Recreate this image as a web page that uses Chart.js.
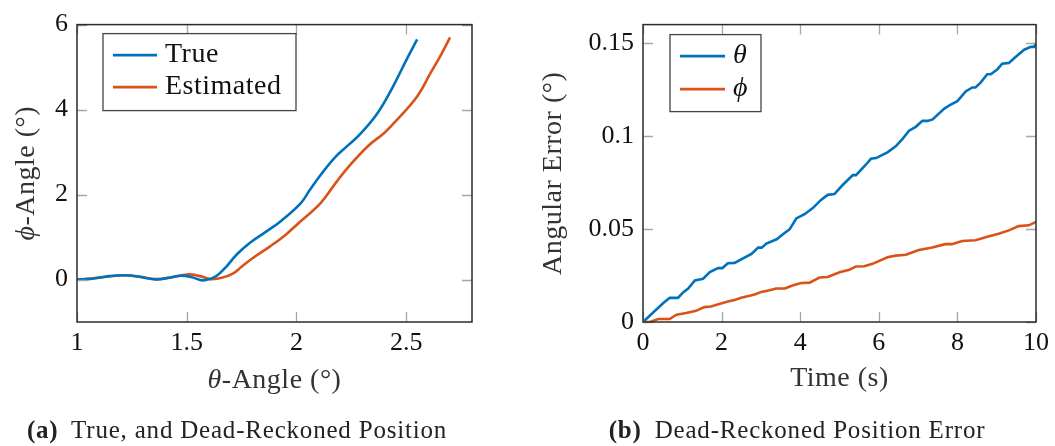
<!DOCTYPE html>
<html lang="en">
<head>
<meta charset="UTF-8">
<title>True, and Dead-Reckoned Position</title>
<script src="https://cdn.jsdelivr.net/npm/chart.js@4"></script>
<style>
  body { margin: 0; background: #fff; width: 1055px; height: 446px; position: relative; overflow: hidden; }
  canvas { position: absolute; top: 0; }
  #chart-a { left: 0; }
  #chart-b { left: 527px; }
  .caption { position: absolute; top: 416px; transform: translateX(-50%); white-space: nowrap;
             font-family: "Liberation Serif", serif; font-size: 25px; letter-spacing: 0.8px; color: #222; }
  .caption b { margin-right: 6px; }
</style>
</head>
<body>
<canvas id="chart-a" width="527" height="446"></canvas>
<canvas id="chart-b" width="528" height="446"></canvas>
<div class="caption" style="left:237px"><b>(a)</b> True, and Dead-Reckoned Position</div>
<div class="caption" style="left:797px"><b>(b)</b> Dead-Reckoned Position Error</div>

<script>
// (a) phi vs theta
const trueX = [1.00, 1.05, 1.10, 1.15, 1.21, 1.28, 1.36, 1.42, 1.47, 1.52, 1.57, 1.61, 1.64, 1.68, 1.73, 1.79, 1.86, 1.93, 2.02, 2.06, 2.11, 2.18, 2.24, 2.29, 2.37, 2.44, 2.50, 2.55];
const trueY = [0.00, 0.01, 0.04, 0.08, 0.10, 0.07, 0.00, 0.04, 0.09, 0.06, -0.02, 0.02, 0.10, 0.30, 0.60, 0.87, 1.12, 1.38, 1.80, 2.10, 2.46, 2.90, 3.18, 3.42, 3.92, 4.54, 5.16, 5.65];
const estX = [1.00, 1.06, 1.12, 1.22, 1.29, 1.36, 1.44, 1.51, 1.56, 1.61, 1.66, 1.71, 1.75, 1.80, 1.88, 1.95, 2.01, 2.11, 2.18, 2.24, 2.33, 2.40, 2.46, 2.55, 2.61, 2.66, 2.70];
const estY = [0.00, 0.02, 0.06, 0.10, 0.06, 0.01, 0.06, 0.12, 0.08, 0.01, 0.04, 0.14, 0.30, 0.50, 0.78, 1.05, 1.33, 1.80, 2.28, 2.67, 3.16, 3.45, 3.77, 4.31, 4.85, 5.30, 5.70];
const xTicksA = [1, 1.5, 2, 2.5];
const yTicksA = [0, 2, 4, 6];

// (b) angular error over time
const thetaT = [0, 0.51, 0.68, 0.89, 1.02, 1.15, 1.32, 1.53, 1.70, 1.91, 2.02, 2.16, 2.33, 2.76, 2.93, 3.02, 3.14, 3.40, 3.61, 3.73, 3.90, 4.11, 4.32, 4.53, 4.70, 4.87, 5.08, 5.34, 5.42, 5.67, 5.80, 5.93, 6.22, 6.43, 6.60, 6.77, 6.94, 7.11, 7.24, 7.37, 7.66, 7.83, 8.00, 8.21, 8.38, 8.46, 8.59, 8.76, 8.85, 9.02, 9.14, 9.31, 9.48, 9.70, 9.87, 9.95, 10.0];
const thetaErr = [0, 0.0101, 0.013, 0.013, 0.0159, 0.018, 0.0224, 0.0233, 0.0268, 0.029, 0.029, 0.0316, 0.0318, 0.0366, 0.040, 0.040, 0.0422, 0.0445, 0.048, 0.0498, 0.0557, 0.058, 0.0613, 0.0657, 0.0684, 0.0688, 0.0737, 0.079, 0.079, 0.0846, 0.0878, 0.0882, 0.0913, 0.0945, 0.0984, 0.1029, 0.105, 0.1082, 0.1082, 0.109, 0.1147, 0.117, 0.1188, 0.124, 0.1262, 0.1262, 0.1288, 0.1333, 0.1333, 0.136, 0.139, 0.1394, 0.1426, 0.1465, 0.148, 0.148, 0.150];
const phiT = [0, 0.18, 0.39, 0.68, 0.85, 1.10, 1.35, 1.56, 1.73, 1.94, 2.16, 2.33, 2.50, 2.71, 2.84, 3.01, 3.22, 3.39, 3.61, 3.82, 4.03, 4.24, 4.49, 4.70, 5.00, 5.25, 5.42, 5.63, 5.84, 6.22, 6.43, 6.69, 7.02, 7.36, 7.69, 7.86, 8.12, 8.46, 8.76, 9.05, 9.31, 9.56, 9.82, 10.0];
const phiErr = [0, 0.0, 0.0016, 0.0016, 0.0039, 0.0048, 0.006, 0.008, 0.0083, 0.0097, 0.011, 0.0118, 0.013, 0.0141, 0.0148, 0.0162, 0.0171, 0.018, 0.018, 0.0198, 0.021, 0.0212, 0.0239, 0.0242, 0.0268, 0.0281, 0.0299, 0.030, 0.0313, 0.0348, 0.0357, 0.0362, 0.0387, 0.0401, 0.0419, 0.0419, 0.0436, 0.0440, 0.0458, 0.0475, 0.0493, 0.0516, 0.052, 0.0539];
const xTicksB = [0, 2, 4, 6, 8, 10];
const yTicksB = [0, 0.05, 0.1, 0.15];

const FONT = '"Liberation Serif", serif';
const SIZE = 26;      // tick labels
const TSIZE = 28;     // axis titles and legend
const BLUE = '#0072BD';
const ORANGE = '#D95319';

const pts = (xs, ys) => xs.map((x, i) => ({ x: x, y: ys[i] }));

// text made of pieces, some italic (greek letters)
function drawParts(ctx, parts, x, y) {
  let total = 0;
  ctx.letterSpacing = '0.5px';
  const widths = parts.map(([t, it]) => {
    ctx.font = (it ? 'italic ' : '') + TSIZE + 'px ' + FONT;
    const w = ctx.measureText(t).width;
    total += w;
    return w;
  });
  let cx = x - total / 2;
  parts.forEach(([t, it], i) => {
    ctx.font = (it ? 'italic ' : '') + TSIZE + 'px ' + FONT;
    ctx.fillText(t, cx, y);
    cx += widths[i];
  });
  ctx.letterSpacing = '0px';
}

// pgfplots-like frame, inward ticks, axis titles and boxed legend
const framePlugin = {
  id: 'frame',
  afterDatasetsDraw(chart, args, o) {
    const ctx = chart.ctx;
    const a = chart.chartArea;
    const xs = chart.scales.x, ys = chart.scales.y;
    ctx.save();
    // ticks
    ctx.strokeStyle = '#a6a6a6';
    ctx.lineWidth = 1.3;
    ctx.beginPath();
    xs.ticks.forEach(t => {
      const p = Math.round(xs.getPixelForValue(t.value)) + 0.5;
      ctx.moveTo(p, a.bottom); ctx.lineTo(p, a.bottom - 10);
      ctx.moveTo(p, a.top); ctx.lineTo(p, a.top + 10);
    });
    ys.ticks.forEach(t => {
      const p = Math.round(ys.getPixelForValue(t.value)) + 0.5;
      ctx.moveTo(a.left, p); ctx.lineTo(a.left + 10, p);
      ctx.moveTo(a.right, p); ctx.lineTo(a.right - 10, p);
    });
    ctx.stroke();
    // frame
    ctx.strokeStyle = '#2b2b2b';
    ctx.lineWidth = 1.5;
    ctx.strokeRect(a.left, a.top, a.right - a.left, a.bottom - a.top);

    // axis titles
    ctx.fillStyle = '#333';
    ctx.textBaseline = 'middle';
    ctx.textAlign = 'left';
    drawParts(ctx, o.xTitle, (a.left + a.right) / 2, o.xTitleY);
    ctx.save();
    ctx.translate(o.yTitleX, (a.top + a.bottom) / 2);
    ctx.rotate(-Math.PI / 2);
    drawParts(ctx, o.yTitle, 0, 0);
    ctx.restore();

    // legend
    const L = o.legend;
    const bx = a.left + L.dx, by = a.top + L.dy;
    ctx.fillStyle = '#fff';
    ctx.fillRect(bx, by, L.w, L.h);
    ctx.strokeStyle = '#444';
    ctx.lineWidth = 1.3;
    ctx.strokeRect(bx, by, L.w, L.h);
    chart.data.datasets.forEach((ds, i) => {
      const ry = by + L.rows[i];
      ctx.strokeStyle = ds.borderColor;
      ctx.lineWidth = 2.6;
      ctx.beginPath();
      ctx.moveTo(bx + 10, ry); ctx.lineTo(bx + 10 + L.line, ry);
      ctx.stroke();
      ctx.fillStyle = '#111';
      ctx.letterSpacing = '0.5px';
      ctx.font = (L.italic ? 'italic ' : '') + TSIZE + 'px ' + FONT;
      ctx.fillText(ds.label, bx + L.text, ry);
      ctx.letterSpacing = '0px';
    });
    ctx.restore();
  }
};

function makeScales(xmin, xmax, xt, ymin, ymax, yt, yWidth) {
  const tickStyle = { color: '#111', font: { family: FONT, size: SIZE }, callback: v => String(v) };
  return {
    x: {
      type: 'linear', min: xmin, max: xmax,
      grid: { display: false, drawTicks: false }, border: { display: false },
      ticks: Object.assign({ padding: 6, maxRotation: 0 }, tickStyle),
      afterBuildTicks: s => { s.ticks = xt.map(v => ({ value: v })); },
      afterFit: s => { s.height = 124; }
    },
    y: {
      type: 'linear', min: ymin, max: ymax,
      grid: { display: false, drawTicks: false }, border: { display: false },
      ticks: Object.assign({ padding: 9 }, tickStyle),
      afterBuildTicks: s => { s.ticks = yt.map(v => ({ value: v })); },
      afterFit: s => { s.width = yWidth; }
    }
  };
}

const lineDs = (label, data, color, tension) => ({
  label: label, data: data, borderColor: color, backgroundColor: color,
  borderWidth: 2.6, pointRadius: 0, showLine: true, tension: tension, fill: false
});

new Chart(document.getElementById('chart-a'), {
  type: 'scatter',
  data: {
    datasets: [
      lineDs('True', pts(trueX, trueY), BLUE, 0.4),
      lineDs('Estimated', pts(estX, estY), ORANGE, 0.4)
    ]
  },
  options: {
    responsive: false, animation: false,
    layout: { padding: { top: 21, right: 55, left: 0, bottom: 0 } },
    scales: makeScales(1, 2.8, xTicksA, -1, 6, yTicksA, 77),
    plugins: {
      legend: { display: false }, tooltip: { enabled: false },
      frame: {
        xTitle: [['θ', true], ['-Angle (°)', false]], xTitleY: 381,
        yTitle: [['ϕ', true], ['-Angle (°)', false]], yTitleX: 27,
        legend: { dx: 26, dy: 9, w: 193, h: 77, rows: [21.5, 53.5], line: 44, text: 62, italic: false }
      }
    }
  },
  plugins: [framePlugin]
});

new Chart(document.getElementById('chart-b'), {
  type: 'scatter',
  data: {
    datasets: [
      lineDs('θ', pts(thetaT, thetaErr), BLUE, 0),
      lineDs('ϕ', pts(phiT, phiErr), ORANGE, 0)
    ]
  },
  options: {
    responsive: false, animation: false,
    layout: { padding: { top: 21, right: 17, left: 0, bottom: 0 } },
    scales: makeScales(0, 10, xTicksB, 0, 0.16, yTicksB, 116),
    plugins: {
      legend: { display: false }, tooltip: { enabled: false },
      frame: {
        xTitle: [['Time (s)', false]], xTitleY: 379,
        yTitle: [['Angular Error (°)', false]], yTitleX: 27,
        legend: { dx: 27, dy: 10, w: 91, h: 77, rows: [21.5, 54.5], line: 45, text: 63, italic: true }
      }
    }
  },
  plugins: [framePlugin]
});
</script>
</body>
</html>
